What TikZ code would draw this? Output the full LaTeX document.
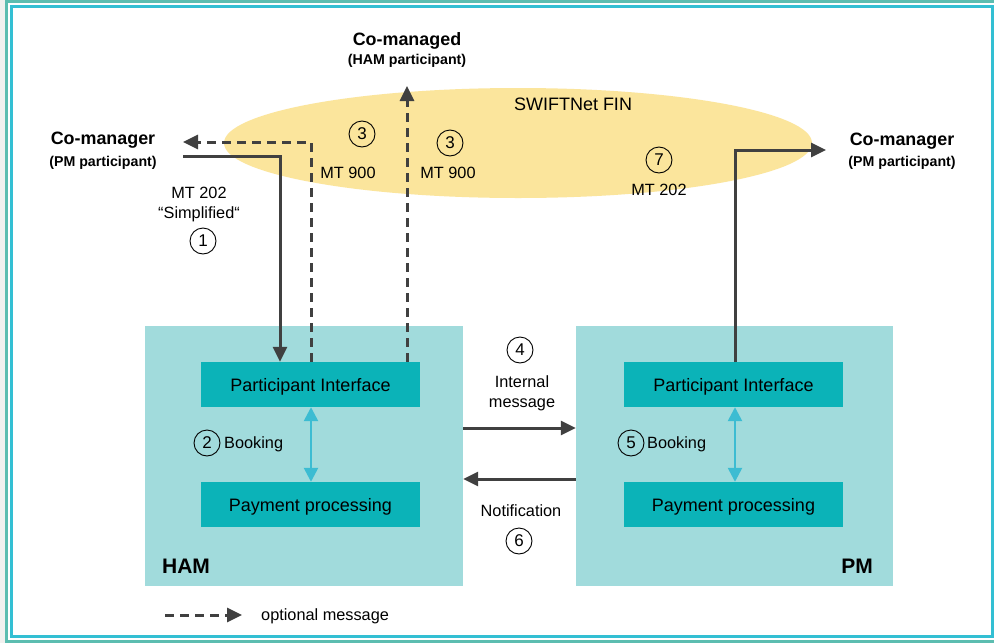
\documentclass[tikz,border=0pt]{standalone}
\usepackage{fontspec}
\setmainfont{Liberation Sans}
\usetikzlibrary{arrows.meta,shapes.geometric}

\definecolor{framegreen}{HTML}{5CBDB0}
\definecolor{framecyan}{HTML}{33BFD3}
\definecolor{areateal}{HTML}{A1DBDC}
\definecolor{boxteal}{HTML}{0BB3B8}
\definecolor{netyellow}{HTML}{FBE59C}
\definecolor{linegray}{HTML}{404040}
\definecolor{bookcyan}{HTML}{3CBCD2}
\definecolor{pagegray}{HTML}{F1F1EF}

\tikzset{
  area/.style={fill=areateal, draw=none, inner sep=0pt},
  unitbox/.style={fill=boxteal, draw=none, minimum width=219pt, minimum height=45pt,
    inner sep=0pt, text depth=0pt, font=\fontsize{18}{21}\selectfont},
  plain/.style={font=\fontsize{16.3}{20}\selectfont, inner sep=1pt, align=center, yshift=-1.5pt},
  party/.style={font=\bfseries\fontsize{17.9}{21}\selectfont, inner sep=0pt, yshift=-1pt},
  partysub/.style={font=\bfseries\fontsize{14.2}{17}\selectfont, inner sep=0pt, yshift=-1pt},
  arealabel/.style={font=\bfseries\fontsize{21}{24}\selectfont, inner sep=0pt},
  stepnum/.style={circle, draw=black, line width=0.9pt, minimum size=26pt, inner sep=0pt,
    font=\fontsize{17}{19}\selectfont},
  msg/.style={draw=linegray, line width=3pt, -{Triangle[length=15pt,width=14pt]}},
  optmsg/.style={msg, dash pattern=on 9pt off 6pt},
  booking/.style={draw=bookcyan, line width=2.5pt,
    {Triangle[length=14pt,width=14pt]}-{Triangle[length=14pt,width=14pt]}},
}

\begin{document}
\begin{tikzpicture}[x=1pt,y=-1pt]
\useasboundingbox (0,0) rectangle (994,643);

% page and double frame
\fill[pagegray] (0,0) rectangle (994,643);
\fill[white] (6.5,1.5) rectangle (997.5,641.5);
\draw[framegreen, line width=3pt] (6.5,1.5) rectangle (997.5,641.5);
\draw[framecyan, line width=3pt] (11.5,6.5) rectangle (992.5,636.5);

% SWIFTNet FIN network
\node[ellipse, fill=netyellow, draw=none, minimum width=588pt, minimum height=110pt,
  inner sep=0pt] (net) at (518,143) {};
\node[plain, font=\fontsize{18}{21}\selectfont] (netlabel) at (573,103) {SWIFTNet FIN};

% HAM and PM areas
\node[area, minimum width=318pt, minimum height=260pt] (ham) at (304,456) {};
\node[area, minimum width=317pt, minimum height=260pt] (pm) at (734.5,456) {};
\node[arealabel] (hamlabel) at (186,566) {HAM};
\node[arealabel] (pmlabel) at (857,566) {PM};

\node[unitbox] (hampi) at (310.5,384.5) {Participant Interface};
\node[unitbox] (hampp) at (310.5,504.5) {Payment processing};
\node[unitbox] (pmpi) at (733.5,384.5) {Participant Interface};
\node[unitbox] (pmpp) at (733.5,504.5) {Payment processing};

% booking inside each area
\draw[booking] (hampi.south -| 311,0) -- (hampp.north -| 311,0);
\draw[booking] (pmpi.south -| 735,0) -- (pmpp.north -| 735,0);
\node[stepnum] (s2) at (207,443) {2};
\node[plain, anchor=west] (book2) at (223,443) {Booking};
\node[stepnum] (s5) at (631,443) {5};
\node[plain, anchor=west] (book5) at (646,443) {Booking};

% parties
\node[party] (cmleft) at (103,139) {Co-manager};
\node[partysub] (cmleftsub) at (103,162) {(PM participant)};
\node[party] (cmright) at (902,140) {Co-manager};
\node[partysub] (cmrightsub) at (902,162) {(PM participant)};
\node[party] (cmd) at (407,40) {Co-managed};
\node[partysub] (cmdsub) at (407,60) {(HAM participant)};

% connector end points
\coordinate (inL) at (183,156);
\coordinate (outL) at (183,142);
\coordinate (outTop) at (407,86);
\coordinate (outR) at (826,150);

% step 1: MT 202 simplified into HAM
\draw[msg] (inL) -| (hampi.north -| 280,0);
\node[plain] (mt202a) at (199,191) {MT 202};
\node[plain] (simpl) at (199,213) {“Simplified“};
\node[stepnum] (s1) at (203,241) {1};

% step 3: optional MT 900 notifications
\draw[optmsg] (hampi.north -| 311,0) |- (outL);
\draw[optmsg] (hampi.north -| 407,0) -- (outTop);
\node[stepnum] (s3a) at (362,134) {3};
\node[plain] (mt900a) at (348,171) {MT 900};
\node[stepnum] (s3b) at (450,143) {3};
\node[plain] (mt900b) at (448,171) {MT 900};

% steps 4 and 6 between HAM and PM
\draw[msg] (ham.east |- 0,428) -- (pm.west |- 0,428);
\draw[msg] (pm.west |- 0,479) -- (ham.east |- 0,479);
\node[stepnum] (s4) at (520,350) {4};
\node[plain] (intmsg) at (522,392) {Internal\\message};
\node[plain] (notif) at (521,509) {Notification};
\node[stepnum] (s6) at (519,541) {6};

% step 7: MT 202 out of PM
\draw[msg] (pmpi.north -| 735,0) |- (outR);
\node[stepnum] (s7) at (659,160) {7};
\node[plain] (mt202b) at (659,188) {MT 202};

% legend
\coordinate (legA) at (165,615);
\coordinate (legB) at (242,615);
\draw[optmsg] (legA) -- (legB);
\node[plain, anchor=west] (legtext) at (260,615) {optional message};
\end{tikzpicture}
\end{document}
